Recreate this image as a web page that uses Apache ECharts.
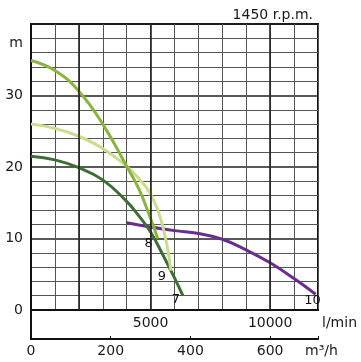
<!DOCTYPE html>
<html>
<head>
<meta charset="utf-8">
<script src="https://cdn.jsdelivr.net/npm/echarts@6/dist/echarts.min.js"></script>
<style>html,body{margin:0;padding:0;background:#fff;}#c{width:361px;height:362px;}</style>
</head>
<body>
<div id="c"></div>
<script>
// Flow in l/min, head in m
const curve8 = [[0,34.9],[1000,33.5],[2000,30.6],[3000,26.0],[4000,20.1],[4500,17.0],[5000,12.8],[5300,10.0]];
const curve9 = [[0,26.0],[1000,25.4],[2000,24.3],[3000,22.6],[4000,20.1],[4500,18.4],[5000,16.2],[5500,11.8],[5850,5.5]];
const curve7 = [[0,21.5],[1000,21.0],[2000,19.9],[3000,18.2],[4000,15.2],[4500,13.2],[5000,10.9],[5500,7.8],[6000,4.5],[6350,2.0]];
const curve10 = [[4000,12.2],[5000,11.6],[6000,11.1],[7000,10.7],[8000,9.9],[9000,8.4],[10000,6.6],[11000,4.4],[11900,2.2]];
const seriesNames = ['10','7','9','8'];
const lminLabels = [5000, 10000];
const m3hLabels = [0, 200, 400, 600];
const headLabels = [0, 10, 20, 30];
const majorFlowLines = [2000, 5000, 10000];
const title = '1450 r.p.m.';

const FONT = 'DejaVu Sans';
const txt = {fontFamily: FONT, fontSize: 14, color: '#1a1a1a'};

function lineSeries(name, data, color, off) {
  return {
    type: 'line', name: name, data: data, xAxisIndex: 0, yAxisIndex: 0,
    smooth: 0.45, showSymbol: false, symbol: 'none',
    lineStyle: {color: color, width: 3}, silent: true,
    endLabel: {show: true, formatter: name, fontFamily: FONT, fontSize: 13, color: '#111',
      distance: 0, align: 'center', verticalAlign: 'middle', offset: off}
  };
}

const chart = echarts.init(document.getElementById('c'), null, {renderer: 'canvas'});
chart.setOption({
  animation: false,
  backgroundColor: '#fff',
  title: {text: title, right: 43, top: 3, textStyle: {fontFamily: FONT, fontSize: 14, fontWeight: 'normal', color: '#1a1a1a'}},
  grid: [
    {left: 31, top: 24, width: 287, height: 286, show: true, borderColor: '#111', borderWidth: 2, backgroundColor: 'transparent'},
    {left: 31, top: 310, width: 287, height: 29, show: false}
  ],
  xAxis: [
    {type: 'value', gridIndex: 0, min: 0, max: 12000, interval: 1000,
     name: 'l/min', nameLocation: 'end', nameGap: 4, nameMoveOverlap: false,
     nameTextStyle: Object.assign({}, txt, {verticalAlign: 'top', lineHeight: 16, padding: [5, 0, 0, 0]}),
     axisLine: {show: true, lineStyle: {color: '#111', width: 2}},
     axisTick: {show: false},
     axisLabel: Object.assign({}, txt, {margin: 6, formatter: v => lminLabels.includes(v) ? String(v) : ''}),
     splitLine: {show: true, lineStyle: {color: '#555', width: 1}}},
    {type: 'value', gridIndex: 1, min: 0, max: 720, interval: 200,
     name: 'm³/h', nameLocation: 'end', nameGap: -13, nameMoveOverlap: false,
     nameTextStyle: Object.assign({}, txt, {align: 'left', verticalAlign: 'top', lineHeight: 16, padding: [4, 0, 0, 0]}),
     axisLine: {show: true, lineStyle: {color: '#111', width: 2}},
     axisTick: {show: true, inside: true, length: 3, lineStyle: {color: '#111', width: 1}},
     axisLabel: Object.assign({}, txt, {margin: 5, formatter: v => m3hLabels.includes(v) ? String(v) : ''}),
     splitLine: {show: false}}
  ],
  yAxis: [
    {type: 'value', gridIndex: 0, min: 0, max: 40, interval: 10,
     name: 'm', nameLocation: 'end', nameGap: -19,
     nameTextStyle: Object.assign({}, txt, {align: 'right', verticalAlign: 'middle', padding: [0, 8, 0, 0]}),
     axisLine: {show: true, lineStyle: {color: '#111', width: 2}},
     axisTick: {show: false},
     axisLabel: Object.assign({}, txt, {margin: 8, formatter: v => headLabels.includes(v) ? String(v) : ''}),
     splitLine: {show: true, lineStyle: {color: '#222', width: 1.6}},
     minorTick: {show: false, splitNumber: 5},
     minorSplitLine: {show: true, lineStyle: {color: '#555', width: 1}}},
    {type: 'value', gridIndex: 1, min: 0, max: 1,
     axisLine: {show: true, lineStyle: {color: '#111', width: 2}},
     axisTick: {show: false}, axisLabel: {show: false}, splitLine: {show: false}}
  ],
  series: [
    Object.assign(lineSeries(seriesNames[0], curve10, '#6a2d8e', [-3, 6]), {
      markLine: {silent: true, symbol: 'none', label: {show: false},
        lineStyle: {color: '#222', width: 1.6, type: 'solid'},
        data: majorFlowLines.map(v => ({xAxis: v}))}
    }),
    lineSeries(seriesNames[1], curve7, '#3f6d36', [-7, 4]),
    lineSeries(seriesNames[2], curve9, '#c8de8e', [-9, 6]),
    lineSeries(seriesNames[3], curve8, '#8cb23f', [-9, 5])
  ]
});
</script>
</body>
</html>
